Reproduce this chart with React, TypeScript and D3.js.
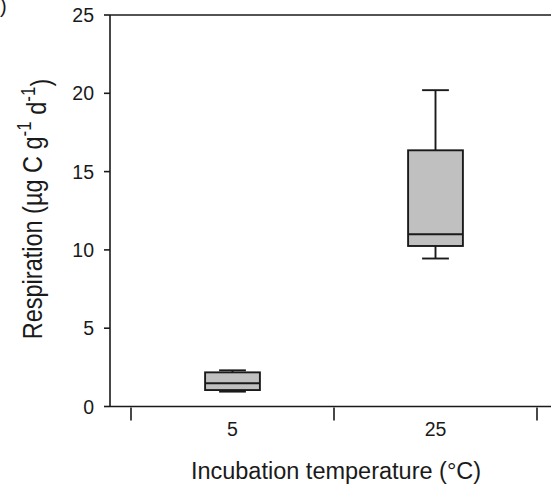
import React from "react";
import * as d3 from "d3";

const categories = ["5", "25"];
const whiskerLow = [0.95, 9.45];
const q1 = [1.05, 10.25];
const median = [1.48, 11.0];
const q3 = [2.18, 16.36];
const whiskerHigh = [2.31, 20.2];
const yTicks = [0, 5, 10, 15, 20, 25];

const W = 551;
const H = 486;
const FONT = "'Liberation Sans', Arial, sans-serif";
const INK = "#1a1a1a";

export default function App() {
  const y = d3.scaleLinear().domain([0, 25]).range([406.5, 15]);
  const x = d3.scaleBand<string>().domain(categories).range([131, 537]).paddingInner(0).paddingOuter(0);
  const boxW = x.bandwidth() * 0.27;
  const capW = x.bandwidth() * 0.066;
  const left = 110;
  const bottom = y(0);
  const boundaries = [...categories.map((c) => x(c) as number), 537];

  return (
    <svg width={W} height={H} style={{ position: "absolute", left: 0, top: 0 }} fontFamily={FONT}>
      <rect width={W} height={H} fill="#fff" />
      <text x={0} y={13} fontSize={20} textAnchor="start" fill={INK}>)</text>
      {/* frame */}
      <line x1={left} x2={W + 5} y1={y(25)} y2={y(25)} stroke={INK} strokeWidth={1.6} />
      <line x1={left} x2={W + 5} y1={bottom} y2={bottom} stroke={INK} strokeWidth={1.6} />
      <line x1={left} x2={left} y1={y(25)} y2={bottom} stroke={INK} strokeWidth={1.6} />
      {/* y ticks */}
      {yTicks.map((t) => (
        <g key={t}>
          <line x1={left - 6} x2={left} y1={y(t)} y2={y(t)} stroke={INK} strokeWidth={1.6} />
          <text x={94} y={y(t)} dy="0.36em" fontSize={19.5} textAnchor="end" fill={INK}>{t}</text>
        </g>
      ))}
      {/* x ticks */}
      {boundaries.map((b, i) => (
        <line key={i} x1={b} x2={b} y1={bottom + 1} y2={bottom + 14} stroke={INK} strokeWidth={1.6} />
      ))}
      {categories.map((c) => (
        <text key={c} x={(x(c) as number) + x.bandwidth() / 2} y={436} fontSize={19.5} textAnchor="middle" fill={INK}>{c}</text>
      ))}
      {/* boxes */}
      {categories.map((c, i) => {
        const cx = (x(c) as number) + x.bandwidth() / 2;
        return (
          <g key={c} stroke={INK} strokeWidth={1.9}>
            <line x1={cx} x2={cx} y1={y(whiskerHigh[i])} y2={y(q3[i])} />
            <line x1={cx} x2={cx} y1={y(q1[i])} y2={y(whiskerLow[i])} />
            <line x1={cx - capW} x2={cx + capW} y1={y(whiskerHigh[i])} y2={y(whiskerHigh[i])} />
            <line x1={cx - capW} x2={cx + capW} y1={y(whiskerLow[i])} y2={y(whiskerLow[i])} />
            <rect x={cx - boxW / 2} y={y(q3[i])} width={boxW} height={y(q1[i]) - y(q3[i])} fill="#c0c0c0" />
            <line x1={cx - boxW / 2} x2={cx + boxW / 2} y1={y(median[i])} y2={y(median[i])} />
          </g>
        );
      })}
      {/* axis titles */}
      <text x={336} y={479} fontSize={23.5} textAnchor="middle" fill={INK}>Incubation temperature (°C)</text>
      <text transform={`translate(42,209) scale(1.15,1) rotate(-90)`} fontSize={23.5} textAnchor="middle" fill={INK}>
        Respiration (µg C g<tspan dy="-0.55em" fontSize={17}>-1</tspan><tspan dy="0.55em"> d</tspan><tspan dy="-0.55em" fontSize={17}>-1</tspan><tspan dy="0.55em">)</tspan>
      </text>
    </svg>
  );
}
